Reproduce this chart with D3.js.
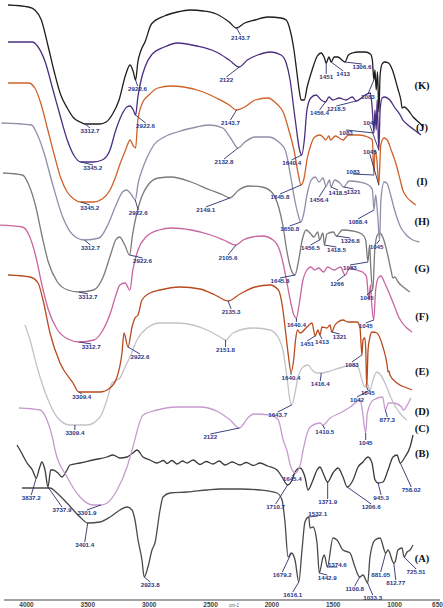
<!DOCTYPE html>
<html><head><meta charset="utf-8">
<script src="https://cdn.jsdelivr.net/npm/d3@7"></script>
<style>html,body{margin:0;padding:0;background:#fff}svg{display:block}</style>
</head><body>
<svg id="chart" width="443" height="608"></svg>
<script>
// FTIR spectra A–K, [wavenumber cm-1, stacked transmittance (offset units)]
const specK = [[3907,119],[3750,118.6],[3700,118],[3650,116],[3600,111],[3550,105.6],[3500,101],[3450,98.4],[3400,96.4],[3350,95.6],[3312.7,95.2],[3250,95.2],[3200,95.2],[3150,95.6],[3100,97.2],[3050,100],[3000,105],[2965,107],[2940,105.6],[2922.6,104],[2905,107.6],[2880,110],[2850,111.6],[2800,115.2],[2700,116.8],[2600,117.6],[2500,118],[2400,117.8],[2300,117.2],[2200,115.6],[2143.7,114.4],[2080,115.4],[2000,116],[1900,116.6],[1800,116.4],[1760,116],[1730,114],[1700,110],[1680,106],[1660,102],[1645,100],[1620,100],[1600,102.4],[1560,106],[1520,108.8],[1490,109.4],[1465,108.4],[1451,107.4],[1430,108.6],[1413,107.6],[1390,108.6],[1360,108.6],[1330,108],[1306.6,107.6],[1280,109],[1250,109.4],[1200,109.6],[1150,109.6],[1110,109.2],[1095,108],[1083,104],[1075,106],[1065,102],[1055,105.6],[1045,97.6],[1035,105],[1020,107.2],[1000,107.6],[970,107.4],[940,106],[900,102.4],[875,100],[865,98.4],[850,98.6],[820,98],[780,96.6],[730,95.4],[700,94.6]];
const specJ = [[3907,111.6],[3720,111.6],[3680,110.8],[3620,107.6],[3560,102],[3500,96.4],[3450,92],[3400,89],[3345.2,87.6],[3250,87.6],[3180,88],[3120,90],[3080,93.6],[3030,97],[2990,98.6],[2965,98.8],[2940,98],[2922.6,97],[2905,100.6],[2880,104],[2850,106.6],[2800,109],[2700,110.6],[2600,111.4],[2450,110.8],[2300,109.6],[2200,108],[2122,106.6],[2060,108],[1980,109],[1880,109.6],[1800,109],[1760,107.4],[1730,104],[1700,98],[1680,94],[1660,90.4],[1640.4,89],[1620,92],[1600,98],[1570,100.4],[1530,101],[1490,100],[1456.4,99.6],[1430,100.6],[1400,100],[1350,100.4],[1300,100],[1250,100.6],[1218.5,99.8],[1150,101],[1110,101.4],[1095,98],[1083,93.4],[1075,98],[1065,94],[1058,100],[1045,90],[1035,98],[1020,100.4],[1000,100.6],[960,100],[920,98.4],[880,97],[860,96],[820,95],[770,94],[720,93]];
const specI = [[3907,103.4],[3750,103.4],[3700,102.4],[3650,99],[3600,94],[3550,89],[3500,84.4],[3450,81.6],[3400,80.2],[3345.2,79.6],[3250,79.6],[3180,80.2],[3120,82],[3080,84.4],[3040,87.4],[3000,90],[2965,92],[2940,90.8],[2922.6,90.4],[2905,96],[2870,99.4],[2820,101],[2750,102.4],[2650,102.8],[2550,102.6],[2400,101.6],[2300,100.4],[2200,99],[2143.7,98],[2080,98.6],[2000,100],[1900,100.4],[1840,99.4],[1780,97.4],[1740,94],[1700,90],[1670,85.6],[1645.8,83],[1620,84.6],[1600,88],[1570,91],[1540,92.6],[1500,93],[1470,92.4],[1456.4,92],[1430,92.8],[1418.5,92],[1380,92.8],[1321,92],[1280,93],[1200,93],[1130,92.6],[1095,92],[1083,85],[1075,90],[1060,88],[1045,83],[1030,91],[1005,92.4],[980,92],[950,90],[910,87],[880,84],[860,82],[830,80.6],[790,79.6],[760,79]];
const specH = [[3950,95.4],[3720,95],[3680,93.4],[3630,90],[3560,83.4],[3480,76.6],[3400,73],[3312.7,72],[3200,72.4],[3130,75.2],[3070,79],[3020,81.6],[2990,82],[2950,81],[2922.6,80],[2900,83.4],[2870,86],[2830,88.6],[2780,91],[2700,92.6],[2600,93.6],[2450,94.6],[2350,95],[2250,94.4],[2190,92.4],[2132.8,90.4],[2080,91.6],[2000,92.6],[1900,92.6],[1820,91.6],[1770,90],[1730,85],[1700,80.4],[1670,77],[1650.8,75.6],[1630,77],[1600,81.4],[1570,84],[1540,84.6],[1510,83.6],[1480,84.4],[1456.4,82.8],[1430,84],[1418.5,82.6],[1390,84],[1350,83.4],[1321,82.6],[1280,83.8],[1200,83.6],[1130,83],[1100,82],[1088.4,78],[1075,81],[1060,77],[1045,72],[1035,80],[1010,83.6],[990,83.4],[960,81],[930,78],[900,75.6],[880,74.4],[870,74],[840,73],[790,72],[740,71.6]];
const specG = [[3900,85.4],[3750,85],[3700,83],[3650,79],[3600,73],[3550,67.6],[3480,63.6],[3400,62],[3312.7,61.6],[3200,62],[3130,64.4],[3070,69],[3030,72],[3000,72.6],[2960,71],[2922.6,69],[2900,73],[2870,77],[2830,80.6],[2780,83],[2700,84.4],[2600,84.6],[2450,83.6],[2300,82],[2200,81],[2149.1,80.4],[2080,82],[2000,82.8],[1900,82.6],[1820,81.4],[1770,78.4],[1740,75],[1710,70],[1680,66.4],[1645.8,65],[1620,67.6],[1590,72],[1560,74],[1530,73.4],[1500,72.6],[1470,73.6],[1456.5,72],[1430,73.4],[1418.5,71],[1400,73.2],[1350,73.6],[1326.8,72.8],[1280,74],[1200,73.8],[1130,73.2],[1100,72],[1083,67.6],[1070,71],[1060,66],[1045,62],[1030,70],[1010,73],[990,73.4],[960,72],[930,69],[905,66],[890,64.4],[875,64.6],[850,63.6],[800,62.4],[760,61.6]];
const specF = [[3950,75],[3750,74.6],[3700,73],[3650,69],[3600,63],[3550,58],[3480,54],[3400,52.2],[3312.7,51.6],[3200,52],[3130,54],[3070,57.6],[3030,61],[3000,63],[2960,63.4],[2922.6,62],[2900,66],[2860,70],[2800,72.6],[2700,74],[2600,74.4],[2450,74],[2300,73],[2200,72],[2105.6,71],[2050,72],[1980,72.6],[1900,72.8],[1820,72],[1770,70],[1740,67],[1710,63],[1680,59],[1660,57],[1640.4,56.4],[1620,59],[1590,64],[1560,66],[1530,66.6],[1500,66],[1470,66.4],[1430,65.6],[1400,66.6],[1350,66],[1300,66.6],[1266,65],[1230,66.4],[1180,66],[1130,65.6],[1100,64.6],[1083,60],[1070,63],[1060,59],[1045,56],[1030,62],[1010,64.4],[990,64.8],[960,63.4],[920,61],[880,58.4],[860,57],[830,55.6],[790,54.4],[750,53.6]];
const specE = [[3866,65],[3693,64.6],[3630,63.4],[3591,60],[3536,53.4],[3457,47.4],[3355,43.4],[3309.4,41.6],[3245,41.6],[3143,41.6],[3064,42.4],[3009,44.6],[2970,49.4],[2954,53.4],[2922.6,50.6],[2891,54.6],[2868,56.4],[2844,57],[2813,60],[2750,61.4],[2671,62],[2514,62.6],[2356,62.2],[2238,61],[2135.3,59.8],[2042,61.2],[1924,62.6],[1806,63],[1740,62],[1710,59],[1685,54],[1662,49],[1640.4,45.6],[1620,48],[1605,52],[1590,54],[1570,53.4],[1515,54.6],[1476,55.4],[1451,52.8],[1429,54],[1413,53],[1397,54.6],[1358,54.4],[1334,55],[1321,53.6],[1295,55],[1271,55.6],[1232,56],[1193,55.6],[1122,55.6],[1099,54.6],[1083,49],[1075,52],[1060,52.4],[1053,50],[1045,42.6],[1035,50],[1020,52.6],[1004,53.6],[965,53.4],[918,50.6],[885,47],[878,45.6],[870,45.8],[863,45],[808,43.4],[729,42.4],[689,42]];
const specD = [[3693,55],[3654,52],[3600,46.6],[3524,40.6],[3447,36.6],[3347,35],[3309.4,35],[3216,35],[3116,36.6],[3063,40],[3024,43.4],[2986,44],[2963,44.4],[2924,46.6],[2886,48.6],[2832,52],[2755,54.4],[2655,55.4],[2525,55.4],[2402,55],[2294,54],[2194,52.6],[2151.8,52],[2095,53.4],[1941,54.4],[1810,54],[1749,52.6],[1711,50],[1680,44.6],[1657,40],[1643.7,39],[1618,41.4],[1595,44.6],[1556,46.6],[1518,47],[1487,46],[1449,45.4],[1416.4,45.4],[1373,45.6],[1326,46],[1250,46.6],[1173,47],[1134,46.6],[1104,44],[1083,42.6],[1065,43.4],[1042,42],[1019,44],[990,45.6],[960,45],[920,43],[880,40.4],[840,38.4],[800,37],[760,36]];
const specC = [[4000,38.4],[3821,38],[3761,36],[3710,32],[3693,30],[3590,24.6],[3480,20.6],[3369,19],[3301.9,19],[3249,19.4],[3164,22],[3079,26.6],[3036,30],[2942,37],[2823,38],[2652,38.6],[2456,38.6],[2300,37.6],[2200,36],[2122,34.4],[2050,36.4],[2003,37.2],[1858,37],[1790,36],[1748,32],[1713,29.6],[1688,27],[1645.4,25.4],[1603,27],[1578,30],[1543,33.4],[1518,34.6],[1432,35.4],[1410.5,35],[1347,36.4],[1262,37.4],[1176,38.6],[1091,40],[1074,38],[1045,33.4],[1031,37.4],[980,40],[900,40.6],[877.3,38],[850,39.4],[809,39.4],[740,38.6],[723.15,38],[690,39],[660,40.4]];
const specB = [[4000,31],[3975,30],[3915,27.4],[3870,26],[3837.2,24.4],[3810,26.4],[3789,27.6],[3763,26],[3737.9,22.6],[3715,26],[3695,26],[3653,25.4],[3619,24.6],[3577,26],[3552,27],[3467,27.4],[3357,28],[3239,28.6],[3188,29],[3129,28.4],[3069,28.6],[3019,29.4],[2985,30],[2934,28.6],[2875,28],[2816,27.4],[2760,27.9],[2731,27.3],[2690,27.9],[2646,27.2],[2600,27.8],[2562,27.4],[2510,28],[2452,27.1],[2400,27.7],[2342,27.2],[2290,27.8],[2240,27],[2180,27.6],[2113,27],[2060,27.5],[2000,26.9],[1944,27.4],[1880,26.8],[1800,26],[1758,24.6],[1710.7,23],[1673,24],[1648,25.6],[1606,26.4],[1564,24.6],[1538,22],[1496,24],[1462,26],[1437,26.6],[1411,25.4],[1371.9,23.6],[1327,25.4],[1284,26.4],[1242,24.6],[1206.6,22.6],[1157,24],[1115,26.6],[1073,27.6],[1031,28.6],[997,27.4],[971,24],[945.3,23.4],[904,23.6],[861,26],[819,28.6],[785,29],[758.02,27.4],[718,28.6],[675,30.6],[650,33]];
const specA = [[3958,22.4],[3721,22.4],[3662,21.4],[3577,19.4],[3467,16.6],[3401.4,15.4],[3298,15.6],[3213,16.6],[3129,18],[3069,18.6],[3027,18],[3002,16],[2976,12],[2943,8],[2923.8,4.6],[2892,6.6],[2858,10],[2833,11.4],[2790,18],[2765,20.6],[2706,21.4],[2562,21.6],[2393,22],[2283,22.2],[2113,22.2],[1944,22],[1800,21.4],[1758,20],[1733,15.6],[1707,8.6],[1679.2,9.4],[1648,8],[1616.1,3.6],[1589,10],[1564,15.6],[1532.1,16.6],[1521,14.4],[1496,14.6],[1462,11.4],[1442.9,5.4],[1411,8.6],[1400,9],[1374.6,6.6],[1327,12.4],[1293,12],[1242,10],[1183,9.4],[1141,6.6],[1100.8,4.6],[1073,5],[1033.3,3.4],[1014,8.6],[971,12],[929,12.4],[881.05,9.4],[861,10],[812.77,7.4],[802,7.6],[777,10],[743,10.4],[725.51,8.6],[700,9.6],[675,10],[650,11]];

// series order, trace colours and tag text
const seriesIds = ["K","J","I","H","G","F","E","D","C","B","A"];
const spectra = {K:specK,J:specJ,I:specI,H:specH,G:specG,F:specF,E:specE,D:specD,C:specC,B:specB,A:specA};
const tickValues = [4000,3500,3000,2500,2000,1500,1000,650];

// peak annotations: series, wavenumber, label
const peakNotes = [
  ["K",3312.7,"3312.7"],["K",2922.6,"2922.6"],["K",2143.7,"2143.7"],["K",1451,"1451"],["K",1413,"1413"],["K",1306.6,"1306.6"],["K",1083,"1083"],
  ["J",3345.2,"3345.2"],["J",2922.6,"2922.6"],["J",2122,"2122"],["J",1640.4,"1640.4"],["J",1456.4,"1456.4"],["J",1218.5,"1218.5"],["J",1083,"1083"],["J",1045,"1045"],
  ["I",3345.2,"3345.2"],["I",2143.7,"2143.7"],["I",1645.8,"1645.8"],["I",1083,"1083"],["I",1045,"1045"],
  ["H",3312.7,"3312.7"],["H",2922.6,"2922.6"],["H",2132.8,"2132.8"],["H",1650.8,"1650.8"],["H",1456.4,"1456.4"],["H",1418.5,"1418.5"],["H",1321,"1321"],["H",1088.4,"1088.4"],["H",1045,"1045"],
  ["G",3312.7,"3312.7"],["G",2922.6,"2922.6"],["G",2149.1,"2149.1"],["G",1645.8,"1645.8"],["G",1456.5,"1456.5"],["G",1418.5,"1418.5"],["G",1326.8,"1326.8"],["G",1083,"1083"],["G",1045,"1045"],
  ["F",3312.7,"3312.7"],["F",2105.6,"2105.6"],["F",1640.4,"1640.4"],["F",1266,"1266"],["F",1045,"1045"],
  ["E",3309.4,"3309.4"],["E",2922.6,"2922.6"],["E",2135.3,"2135.3"],["E",1640.4,"1640.4"],["E",1451,"1451"],["E",1413,"1413"],["E",1321,"1321"],["E",1083,"1083"],["E",1045,"1045"],
  ["D",3309.4,"3309.4"],["D",2151.8,"2151.8"],["D",1643.7,"1643.7"],["D",1416.4,"1416.4"],["D",1042,"1042"],
  ["C",3301.9,"3301.9"],["C",2122,"2122"],["C",1645.4,"1645.4"],["C",1410.5,"1410.5"],["C",1045,"1045"],["C",877.3,"877.3"],
  ["B",3837.2,"3837.2"],["B",3737.9,"3737.9"],["B",1710.7,"1710.7"],["B",1371.9,"1371.9"],["B",1206.6,"1206.6"],["B",945.3,"945.3"],["B",758.02,"758.02"],
  ["A",3401.4,"3401.4"],["A",2923.8,"2923.8"],["A",1679.2,"1679.2"],["A",1616.1,"1616.1"],["A",1532.1,"1532.1"],["A",1442.9,"1442.9"],["A",1374.6,"1374.6"],["A",1100.8,"1100.8"],["A",1033.3,"1033.3"],["A",881.05,"881.05"],["A",812.77,"812.77"],["A",725.51,"725.51"]
];

// ---- layout and styling ----
const W = 443, H = 608;
const traceStyle = {
  K:{color:"#1d1d1f", span:[-4,430], tagY:85},
  J:{color:"#4b2e80", span:[-4,430], tagY:127},
  I:{color:"#cf6129", span:[-4,430], tagY:181},
  H:{color:"#8e8fa8", span:[-5,431], tagY:221},
  G:{color:"#7a7a7a", span:[-10,424], tagY:268},
  F:{color:"#c8669f", span:[-10,425], tagY:316},
  E:{color:"#b84a1e", span:[-9,417], tagY:371},
  D:{color:"#c3c2c8", span:[-15,421], tagY:411},
  C:{color:"#c79bd0", span:[19,412], tagY:428},
  B:{color:"#3b3b3b", span:[17,413], tagY:453},
  A:{color:"#4a4a4a", span:[17,413], tagY:558}
};
// label offsets from each annotated point (dx, dy)
const noteOffset = {
  "K3312.7":[5,7],"K2922.6":[2,9],"K2143.7":[4,10],"K1451":[0,14],"K1413":[12,12],"K1306.6":[17,5],"K1083":[-6,17],
  "J3345.2":[12,6],"J2922.6":[10,11],"J2122":[-13,13],"J1640.4":[-10,8],"J1456.4":[-6,11],"J1218.5":[-20,8],"J1083":[-28,0],"J1045":[-9,-27],
  "I3345.2":[9,6],"I2143.7":[-6,13],"I1645.8":[-21,12],"I1083":[-21,-3],"I1045":[-9,-33],
  "H3312.7":[6,8],"H2922.6":[3,13],"H2132.8":[-14,14],"H1650.8":[-11,7],"H1456.4":[-7,14],"H1418.5":[7,6],"H1321":[10,5],"H1088.4":[-16,12],"H1045":[-3,7],
  "G3312.7":[9,5],"G2922.6":[13,6],"G2149.1":[-24,12],"G1645.8":[-15,6],"G1456.5":[-9,8],"G1418.5":[12,5],"G1326.8":[14,5],"G1083":[-18,6],"G1045":[-6,8],
  "F3312.7":[12,5],"F2105.6":[-8,13],"F1640.4":[0,7],"F1266":[-8,9],"F1045":[-8,6],
  "E3309.4":[3,5],"E2922.6":[12,10],"E2135.3":[3,11],"E1640.4":[0,6],"E1451":[-8,8],"E1413":[2,7],"E1321":[8,5],"E1083":[-10,10],"E1045":[1,6],
  "D3309.4":[0,8],"D2151.8":[0,10],"D1643.7":[-14,10],"D1416.4":[-1,11],"D1042":[-13,10],
  "C3301.9":[-14,8],"C2122":[-29,9],"C1645.4":[-3,6],"C1410.5":[2,7],"C1045":[0,10],"C877.3":[2,10],
  "B3837.2":[-5,20],"B3737.9":[14,23],"B1710.7":[-12,22],"B1371.9":[0,20],"B1206.6":[24,20],"B945.3":[3,15],"B758.02":[11,27],
  "A3401.4":[-3,22],"A2923.8":[6,8],"A1679.2":[-9,22],"A1616.1":[-6,13],"A1532.1":[9,-3],"A1442.9":[8,5],"A1374.6":[10,-2],"A1100.8":[-5,12],"A1033.3":[5,15],"A881.05":[-5,22],"A812.77":[2,20],"A725.51":[12,15]
};

const svg = d3.select("#chart");
svg.append("rect").attr("width",W).attr("height",H).attr("fill","#fff");

const y = d3.scaleLinear().domain([0,120]).range([600,0]);
const xOf = {};
seriesIds.forEach(id => { xOf[id] = d3.scaleLinear().domain([4000,650]).range(traceStyle[id].span); });
const xAxisScale = d3.scaleLinear().domain([4000,650]).range([26,437]);

const plot = svg.append("g").attr("class","traces");
// draw from bottom to top so the upper traces sit over the lower ones
seriesIds.slice().reverse().forEach(id => {
  const line = d3.line().x(d => xOf[id](d[0])).y(d => y(d[1])).curve(d3.curveMonotoneX);
  plot.append("path").datum(spectra[id])
    .attr("fill","none").attr("stroke",traceStyle[id].color)
    .attr("stroke-width",1.3).attr("stroke-linejoin","round").attr("d",line);
});

// value of a trace at a given wavenumber (linear between readings)
function valueAt(id, wn){
  const d = spectra[id];
  for (let i=0;i<d.length-1;i++){
    const a=d[i], b=d[i+1];
    if ((wn<=a[0] && wn>=b[0])){
      const t = (a[0]-wn)/(a[0]-b[0]);
      return a[1] + t*(b[1]-a[1]);
    }
  }
  return d[d.length-1][1];
}

const notes = svg.append("g").attr("class","notes");
peakNotes.forEach(([id,wn,label]) => {
  const off = noteOffset[id+label] || [0,8];
  const px = xOf[id](wn), py = y(valueAt(id,wn));
  const tx = px+off[0], ty = py+off[1];
  const endY = off[1] >= 0 ? ty-3 : ty+2;
  notes.append("line").attr("x1",px).attr("y1",py).attr("x2",tx).attr("y2",endY)
    .attr("stroke","#27306e").attr("stroke-width",0.9);
  notes.append("text").attr("x",tx).attr("y",ty).attr("dy","0.35em")
    .attr("text-anchor","middle").attr("font-family","Liberation Sans, Arial, sans-serif")
    .attr("font-size",6.2).attr("font-weight","bold").attr("fill","#2b3585").text(label);
});

// sample tags on the right
const tags = svg.append("g").attr("class","tags");
seriesIds.forEach(id => {
  tags.append("text").attr("x",422).attr("y",traceStyle[id].tagY).attr("dy","0.35em")
    .attr("text-anchor","middle").attr("font-family","Liberation Serif, Times New Roman, serif")
    .attr("font-weight","bold").attr("font-size",10.5).attr("fill","#111").text("("+id+")");
});

// wavenumber axis
const axis = d3.axisBottom(xAxisScale).tickValues(tickValues).tickSize(0).tickPadding(2).tickFormat(d3.format("d"));
const gx = svg.append("g").attr("transform","translate(0,600)").call(axis);
gx.select(".domain").attr("stroke","#444").attr("stroke-width",1.2).attr("d","M4,0H440");
gx.selectAll("text").attr("font-family","Liberation Sans, Arial, sans-serif").attr("font-size",6.5).attr("font-weight","bold").attr("fill","#444");
svg.append("text").attr("x",229).attr("y",606.5).attr("text-anchor","start")
  .attr("font-family","Liberation Sans, Arial, sans-serif").attr("font-size",4.5).attr("fill","#555").text("cm-1");
</script>
</body></html>
